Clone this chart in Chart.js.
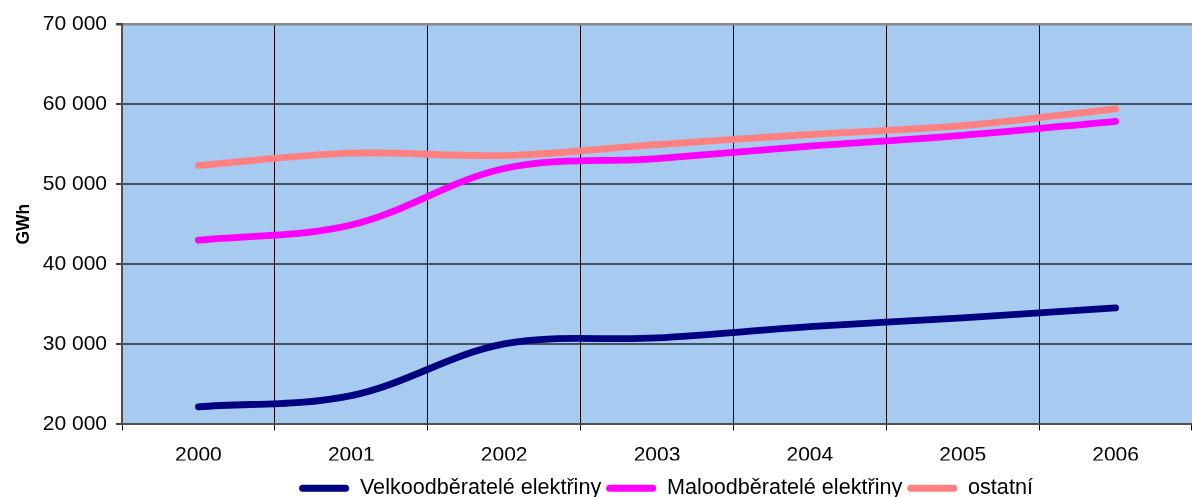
<!DOCTYPE html>
<html>
<head>
<meta charset="utf-8">
<script src="https://cdn.jsdelivr.net/npm/chart.js@4/dist/chart.umd.min.js"></script>
<style>
  html, body { margin: 0; padding: 0; background: #ffffff; }
  #wrap { width: 1192px; height: 497px; }
</style>
</head>
<body>
<div id="wrap"><canvas id="c" width="1192" height="497"></canvas></div>
<script>
const years = ['2000', '2001', '2002', '2003', '2004', '2005', '2006'];
const velko = [22200, 23600, 30050, 30800, 32200, 33300, 34550];
const malo = [43000, 44900, 51950, 53200, 54750, 56100, 57850];
const ostatni = [52350, 53880, 53580, 54950, 56200, 57300, 59400];
const seriesNames = ['Velkoodběratelé elektřiny', 'Maloodběratelé elektřiny', 'ostatní'];
const yMin = 20000, yMax = 70000, yStep = 10000;

const FONT = "'Liberation Sans', Arial, sans-serif";

const bgPlugin = {
  id: 'plotBg',
  beforeDraw(chart) {
    const a = chart.chartArea;
    const ctx = chart.ctx;
    ctx.save();
    ctx.fillStyle = '#A6CAF0';
    ctx.fillRect(a.left, a.top, a.right - a.left, a.bottom - a.top);
    ctx.restore();
  }
};

const legendShift = {
  id: 'legendShift',
  afterLayout(chart) {
    const lg = chart.legend;
    if (!lg) return;
    lg.left += 70; lg.right += 70;
    lg.top += 12; lg.bottom += 12;
  }
};

function fmt(v) {
  return String(v).replace(/\B(?=(\d{3})+(?!\d))/g, ' ');
}

new Chart(document.getElementById('c'), {
  type: 'line',
  data: {
    labels: years,
    datasets: [
      { label: seriesNames[0], data: velko, borderColor: '#000080', backgroundColor: '#000080' },
      { label: seriesNames[1], data: malo, borderColor: '#FF00FF', backgroundColor: '#FF00FF' },
      { label: seriesNames[2], data: ostatni, borderColor: '#FF8080', backgroundColor: '#FF8080' }
    ]
  },
  options: {
    responsive: false,
    devicePixelRatio: 1,
    animation: false,
    layout: { padding: { top: 24, left: 0, right: 0, bottom: 0 } },
    elements: {
      line: { borderWidth: 6.8, tension: 0.35, borderCapStyle: 'round', borderJoinStyle: 'round', fill: false },
      point: { radius: 0, hoverRadius: 0 }
    },
    plugins: {
      tooltip: { enabled: false },
      legend: {
        position: 'bottom',
        labels: {
          font: { family: FONT, size: 21.6 },
          color: '#000',
          boxWidth: 50,
          boxHeight: 7,
          padding: 5,
          useBorderRadius: true,
          borderRadius: 3.5,
          generateLabels(chart) {
            const items = Chart.defaults.plugins.legend.labels.generateLabels(chart);
            items.forEach(it => { it.lineWidth = 0; it.strokeStyle = 'rgba(0,0,0,0)'; });
            return items;
          }
        }
      }
    },
    scales: {
      x: {
        type: 'category',
        offset: true,
        grid: {
          offset: true,
          color: ctx => (ctx.index === undefined ? 'rgba(0,0,0,0)' : '#000'),
          lineWidth: 1,
          drawTicks: true,
          tickLength: 6,
          tickColor: '#000'
        },
        border: { display: true, color: '#505050', width: 2 },
        ticks: { font: { family: FONT, size: 21 }, color: '#000', padding: 12, maxRotation: 0 },
        afterFit(scale) { scale.height = 36; }
      },
      y: {
        min: yMin,
        max: yMax,
        grid: {
          color: ctx => (ctx.tick && ctx.tick.value === yMax ? '#888888' : 'rgba(0,0,0,0.6)'),
          lineWidth: ctx => (ctx.tick && ctx.tick.value === yMax ? 2.5 : 2),
          drawTicks: true,
          tickLength: 6,
          tickColor: '#404040'
        },
        border: { display: true, color: '#505050', width: 2 },
        ticks: {
          stepSize: yStep,
          font: { family: FONT, size: 21 },
          color: '#000',
          padding: 9,
          callback: v => fmt(v)
        },
        title: {
          display: true,
          text: 'GWh',
          font: { family: FONT, size: 17.5, weight: 'bold' },
          color: '#000',
          padding: { top: 14, bottom: 0 }
        },
        afterFit(scale) { scale.width = 122; }
      }
    }
  },
  plugins: [bgPlugin, legendShift]
});
</script>
</body>
</html>
